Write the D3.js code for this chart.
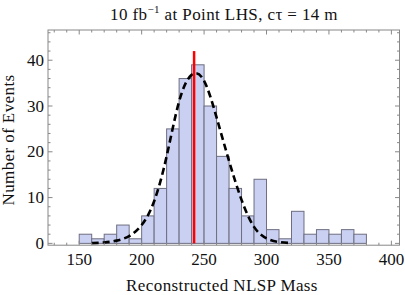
<!DOCTYPE html>
<html>
<head>
<meta charset="utf-8">
<script src="https://cdn.jsdelivr.net/npm/d3@7"></script>
<style>
  body { margin: 0; background: #fff; }
  text { font-family: "Liberation Serif", "Times New Roman", serif; fill: #111; }
</style>
</head>
<body>
<svg id="chart" width="405" height="295"></svg>
<script>
// histogram bins (lower edges, width 10) and counts
var binStarts = [150, 160, 170, 180, 190, 200, 210, 220, 230, 240, 250, 260,
                 270, 280, 290, 300, 310, 320, 330, 340, 350, 360, 370];
var counts = [2, 1, 2, 4, 1, 6, 12, 25, 36, 39, 30, 19,
              12, 6, 14, 3, 1, 7, 2, 3, 2, 3, 2];
var binWidth = 10;

// dashed fit curve
var fitX = [160, 170, 180, 190, 200, 210, 220, 230, 240, 250, 260, 270, 280, 290, 300, 310, 320];
var fitY = [0.05, 0.2, 0.6, 1.6, 4.0, 9.2, 19, 31, 36.8, 35.5, 27.5, 18, 9.5, 3.6, 1.1, 0.3, 0.05];

// red marker line
var markerX = 242;
var markerTop = 42;

var xTicks = [150, 200, 250, 300, 350, 400];
var yTicks = [0, 10, 20, 30, 40];

var svg = d3.select('#chart');

var x = d3.scaleLinear().domain([125, 406.5]).range([48, 399.5]);
var y = d3.scaleLinear().domain([-0.4, 46.6]).range([245.2, 30]);

/* bars */
svg.append('g').selectAll('rect')
  .data(binStarts)
  .enter().append('rect')
  .attr('x', function(d) { return x(d); })
  .attr('width', function(d) { return x(d + binWidth) - x(d); })
  .attr('y', function(d, i) { return y(counts[i]); })
  .attr('height', function(d, i) { return y(0) - y(counts[i]); })
  .style('fill', '#c9d0f2')
  .style('stroke', '#6e6e80')
  .style('stroke-width', 1);

/* fit curve */
var line = d3.line()
  .x(function(d) { return x(d); })
  .y(function(d, i) { return y(fitY[i]); })
  .curve(d3.curveNatural);

svg.append('path')
  .attr('d', line(fitX))
  .style('fill', 'none')
  .style('stroke', '#000')
  .style('stroke-width', 2.6)
  .style('stroke-dasharray', '7,4');

/* red line */
svg.append('line')
  .attr('x1', x(markerX)).attr('x2', x(markerX))
  .attr('y1', y(0)).attr('y2', y(markerTop))
  .style('stroke', '#ff0000')
  .style('stroke-width', 2.5);

/* frame with inward ticks */
var frame = svg.append('g').style('stroke', '#888').style('fill', 'none');
frame.append('rect')
  .attr('x', 48).attr('y', 30)
  .attr('width', 399.5 - 48).attr('height', 245.2 - 30)
  .style('stroke-width', 1);

var xMinor = d3.range(130, 410, 10);
var yMinor = d3.range(0, 47, 2);

xMinor.forEach(function(v) {
  var len = v % 50 === 0 ? 4.5 : 2.5;
  frame.append('line').attr('x1', x(v)).attr('x2', x(v)).attr('y1', 245.2).attr('y2', 245.2 - len);
  frame.append('line').attr('x1', x(v)).attr('x2', x(v)).attr('y1', 30).attr('y2', 30 + len);
});
yMinor.forEach(function(v) {
  var len = v % 10 === 0 ? 4.5 : 2.5;
  frame.append('line').attr('x1', 48).attr('x2', 48 + len).attr('y1', y(v)).attr('y2', y(v));
  frame.append('line').attr('x1', 399.5).attr('x2', 399.5 - len).attr('y1', y(v)).attr('y2', y(v));
});

/* tick labels */
svg.append('g').selectAll('text')
  .data(xTicks)
  .enter().append('text')
  .attr('x', function(d) { return x(d); })
  .attr('y', 265)
  .attr('text-anchor', 'middle')
  .style('font-size', '17px')
  .text(function(d) { return d; });

svg.append('g').selectAll('text')
  .data(yTicks)
  .enter().append('text')
  .attr('x', 44)
  .attr('y', function(d) { return y(d) + 5.5; })
  .attr('text-anchor', 'end')
  .style('font-size', '17px')
  .text(function(d) { return d; });

/* axis titles */
svg.append('text')
  .attr('x', 222).attr('y', 291)
  .attr('text-anchor', 'middle')
  .style('font-size', '17px')
  .style('letter-spacing', '0.4px')
  .text('Reconstructed NLSP Mass');

svg.append('text')
  .attr('transform', 'translate(14,140) rotate(-90)')
  .attr('text-anchor', 'middle')
  .style('font-size', '17px')
  .style('letter-spacing', '0.4px')
  .text('Number of Events');

/* title */
var title = svg.append('text')
  .attr('x', 224).attr('y', 20)
  .attr('text-anchor', 'middle')
  .style('font-size', '17px')
  .style('letter-spacing', '0.4px');
title.append('tspan').text('10 fb');
title.append('tspan').attr('dy', -7).style('font-size', '11px').text('\u22121');
title.append('tspan').attr('dy', 7).text(' at Point LHS, c\u03C4 = 14 m');
</script>
</body>
</html>
